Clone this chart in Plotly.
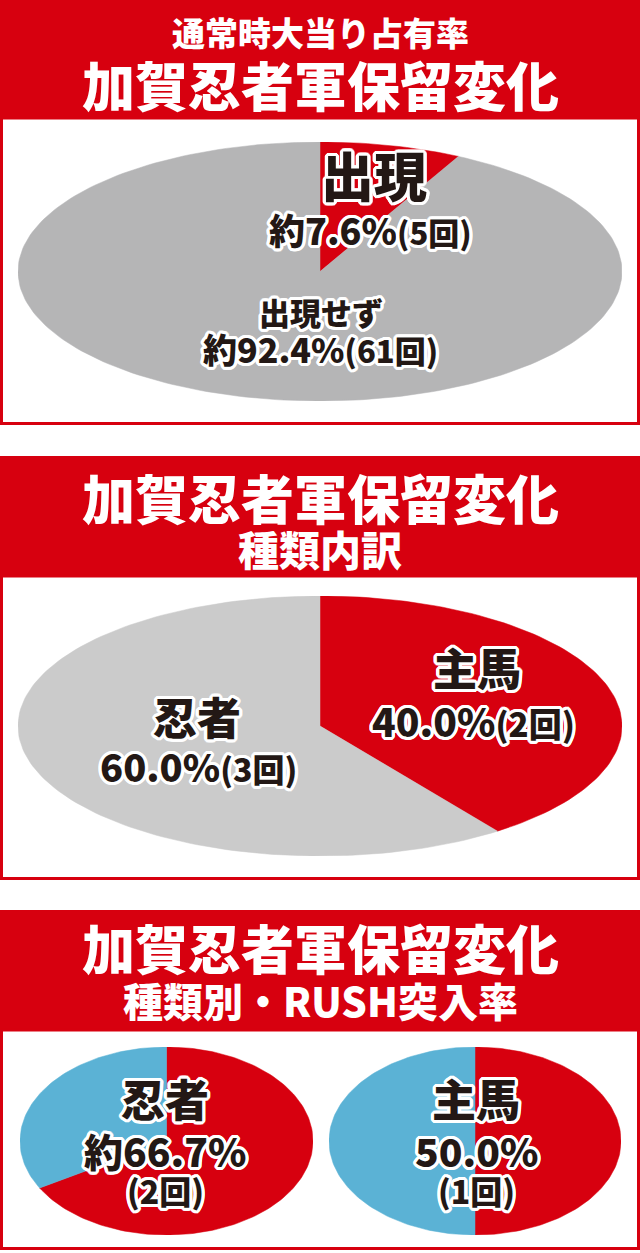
import numpy as np
import plotly.graph_objects as go

# 通常時大当り占有率
occ_labels = ["出現", "出現せず"]
occ_counts = [5, 61]

# 種類内訳
type_labels = ["主馬", "忍者"]
type_counts = [2, 3]

# 種類別・RUSH突入率
rush_names = ["忍者", "主馬"]
rush_hits = [2, 1]
rush_totals = [3, 2]

W, H = 640, 1253
RED = "#D7000F"
GRAY1 = "#B5B5B6"
GRAY2 = "#CBCBCB"
BLUE = "#5BB2D5"
INK = "#231815"
JP = "Noto Sans CJK JP"

# white outline around the black labels
OUTLINE = ", ".join(
    f"{3.2 * np.cos(a):.1f}px {3.2 * np.sin(a):.1f}px 0 #fff"
    for a in np.linspace(0, 2 * np.pi, 16, endpoint=False)
)


def px(x, y):
    # pixel -> paper coordinates
    return x / W, 1 - y / H


def pct(n, total):
    p = n / total * 100
    txt = f"{p:.1f}%"
    if abs(round(p, 1) - p) > 1e-9:
        txt = "約" + txt
    return txt


def small(text, size):
    return f"<span style='font-size:{size}px'>{text}</span>"


def wedge(f0, f1):
    # slice of a unit pie, clockwise from 12 o'clock
    n = max(int(240 * (f1 - f0)), 2)
    t = np.linspace(f0, f1, n + 1) * 2 * np.pi
    xs = np.concatenate([[0], np.sin(t), [0]])
    ys = np.concatenate([[0], np.cos(t), [0]])
    return xs, ys


def add_pie(fig, idx, values, colors):
    total = sum(values)
    cum = np.cumsum([0] + list(values)) / total
    suffix = "" if idx == 1 else str(idx)
    for i, c in enumerate(colors):
        xs, ys = wedge(cum[i], cum[i + 1])
        fig.add_trace(
            go.Scatter(
                x=xs, y=ys, mode="lines", fill="toself", fillcolor=c,
                line=dict(width=0.5, color=c), hoverinfo="skip",
                xaxis="x" + suffix, yaxis="y" + suffix, showlegend=False,
            )
        )


def label(text, x, y, size, color=INK, outline=True):
    ax, ay = px(x, y)
    return dict(
        text=text, x=ax, y=ay, xref="paper", yref="paper",
        xanchor="center", yanchor="middle", showarrow=False,
        font=dict(family=JP, size=size, color=color, weight=900,
                  shadow=OUTLINE if outline else "none"),
    )


fig = go.Figure()

# pies (ellipse boxes in pixels: x0, x1, y0, y1)
boxes = [
    (18, 622, 142, 401),
    (18, 622, 596, 856),
    (20, 313, 1047, 1235),
    (329, 621, 1047, 1235),
]
add_pie(fig, 1, occ_counts, [RED, GRAY1])
add_pie(fig, 2, type_counts, [RED, GRAY2])
add_pie(fig, 3, [rush_hits[0], rush_totals[0] - rush_hits[0]], [RED, BLUE])
add_pie(fig, 4, [rush_hits[1], rush_totals[1] - rush_hits[1]], [RED, BLUE])

axis_style = dict(range=[-1, 1], visible=False, fixedrange=True)
layout_axes = {}
for i, (x0, x1, y0, y1) in enumerate(boxes, start=1):
    s = "" if i == 1 else str(i)
    layout_axes["xaxis" + s] = dict(axis_style, domain=[x0 / W, x1 / W], anchor="y" + s)
    layout_axes["yaxis" + s] = dict(axis_style, domain=[1 - y1 / H, 1 - y0 / H], anchor="x" + s)

# panel frames: header top, header bottom, panel bottom
panels = [(0, 118, 425), (456, 576, 880), (910, 1030, 1250)]
shapes = []
for top, hb, bottom in panels:
    shapes.append(dict(type="rect", xref="paper", yref="paper",
                       x0=0, x1=1, y0=1 - hb / H, y1=1 - top / H,
                       fillcolor=RED, line=dict(width=0), layer="below"))
    shapes.append(dict(type="rect", xref="paper", yref="paper",
                       x0=1.5 / W, x1=1 - 1.5 / W, y0=1 - (bottom - 1.5) / H, y1=1 - hb / H,
                       fillcolor="rgba(0,0,0,0)", line=dict(color=RED, width=3), layer="below"))

n_occ = sum(occ_counts)
n_type = sum(type_counts)
annotations = [
    # headers
    label("通常時大当り占有率", 320, 32, 33, "white", False),
    label("加賀忍者軍保留変化", 320, 84, 53, "white", False),
    label("加賀忍者軍保留変化", 320, 497, 53, "white", False),
    label("種類内訳", 320, 548, 41, "white", False),
    label("加賀忍者軍保留変化", 320, 947, 53, "white", False),
    label("種類別・RUSH突入率", 320, 1000, 40, "white", False),
    # 占有率
    label(occ_labels[0], 374, 174, 53),
    label(pct(occ_counts[0], n_occ) + small(f"({occ_counts[0]}回)", 31), 370, 229, 36),
    label(occ_labels[1], 321, 311, 31),
    label(pct(occ_counts[1], n_occ) + small(f"({occ_counts[1]}回)", 31), 320, 348, 34),
    # 種類内訳
    label(type_labels[0], 477, 667, 44),
    label(pct(type_counts[0], n_type) + small(f"({type_counts[0]}回)", 33), 473, 720, 39),
    label(type_labels[1], 197, 716, 44),
    label(pct(type_counts[1], n_type) + small(f"({type_counts[1]}回)", 32), 198, 765, 38),
]
# RUSH突入率
for name, hit, tot, cx in zip(rush_names, rush_hits, rush_totals, [165, 476]):
    annotations.append(label(name, cx, 1098, 44))
    annotations.append(label(pct(hit, tot), cx, 1150, 39))
    annotations.append(label(f"({hit}回)", cx, 1190, 32))

fig.update_layout(
    width=W, height=H,
    margin=dict(l=0, r=0, t=0, b=0),
    paper_bgcolor="white", plot_bgcolor="rgba(0,0,0,0)",
    shapes=shapes, annotations=annotations,
    showlegend=False,
    **layout_axes,
)

# page margin off so the figure sits at the window's corner
fig.write_html("out.html", config={"displayModeBar": False},
               post_script="document.body.style.margin='0';")
